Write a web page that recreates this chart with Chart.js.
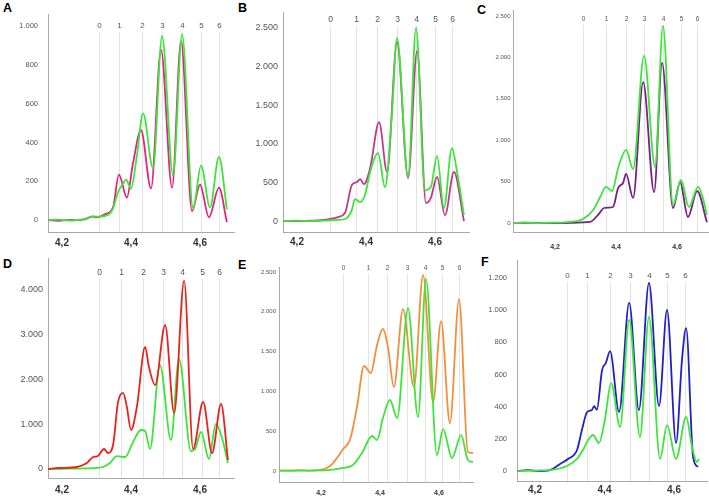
<!DOCTYPE html>
<html>
<head>
<meta charset="utf-8">
<script src="https://cdn.jsdelivr.net/npm/chart.js@4.4.0/dist/chart.umd.min.js"></script>
<style>
  body { margin: 0; background: #fff; width: 709px; height: 496px; overflow: hidden; position: relative; font-family: "Liberation Sans", Arial, sans-serif; }
  canvas { position: absolute; }
  .tag { position: absolute; font-weight: bold; font-size: 12.5px; line-height: 1; color: #000; }
</style>
</head>
<body>
<div class="tag" style="left:3px;top:2px">A</div>
<div class="tag" style="left:238px;top:2px">B</div>
<div class="tag" style="left:477px;top:4px">C</div>
<div class="tag" style="left:3px;top:258px">D</div>
<div class="tag" style="left:238px;top:259px">E</div>
<div class="tag" style="left:481px;top:256px">F</div>

<canvas id="cA" width="236" height="250" style="left:0;top:0"></canvas>
<canvas id="cB" width="236" height="250" style="left:235px;top:0"></canvas>
<canvas id="cC" width="239" height="250" style="left:470px;top:0"></canvas>
<canvas id="cD" width="236" height="251" style="left:0;top:245px"></canvas>
<canvas id="cE" width="240" height="251" style="left:235px;top:245px"></canvas>
<canvas id="cF" width="239" height="251" style="left:470px;top:245px"></canvas>

<script>
// peak labels + axis ticks
const peakNames = ['0', '1', '2', '3', '4', '5', '6'];
const xTicks = [4.2, 4.4, 4.6];
const yTicksA = [0, 200, 400, 600, 800, 1000];
const yTicksB = [0, 500, 1000, 1500, 2000, 2500];
const yTicksC = [0, 500, 1000, 1500, 2000, 2500];
const yTicksD = [0, 1000, 2000, 3000, 4000];
const yTicksE = [0, 500, 1000, 1500, 2000, 2500];
const yTicksF = [0, 200, 400, 600, 800, 1000, 1200];

// where the grey peak lines sit (x value)
const peaksA = [4.307, 4.365, 4.432, 4.490, 4.548, 4.603, 4.655];
const peaksB = [4.296, 4.370, 4.433, 4.491, 4.545, 4.600, 4.650];
const peaksC = [4.293, 4.366, 4.432, 4.493, 4.553, 4.612, 4.667];
const peaksD = [4.308, 4.370, 4.434, 4.494, 4.547, 4.605, 4.655];
const peaksE = [4.276, 4.360, 4.423, 4.491, 4.553, 4.611, 4.669];
const peaksF = [4.291, 4.349, 4.416, 4.473, 4.529, 4.581, 4.632];

// curves, [x, y]
const greenA = [[4.16,0],[4.19,3],[4.22,-2],[4.25,2],[4.27,6],[4.281,15],[4.30,18],[4.33,25],[4.348,61],[4.362,143],[4.377,189],[4.386,209],[4.40,163],[4.417,332],[4.435,551],[4.464,268],[4.49,949],[4.522,230],[4.548,959],[4.58,61],[4.603,281],[4.629,66],[4.655,327],[4.678,56]];
const pinkA = [[4.16,0],[4.19,-3],[4.22,2],[4.25,0],[4.27,8],[4.29,20],[4.30,14],[4.325,31],[4.348,66],[4.365,235],[4.388,117],[4.406,296],[4.429,464],[4.458,163],[4.487,878],[4.519,168],[4.545,923],[4.577,46],[4.60,184],[4.626,15],[4.655,168],[4.678,-10]];

const greenB = [[4.16,0],[4.20,5],[4.24,0],[4.28,5],[4.30,10],[4.32,15],[4.339,26],[4.359,142],[4.368,285],[4.383,246],[4.397,337],[4.412,635],[4.435,880],[4.455,440],[4.475,1373],[4.49,2370],[4.522,570],[4.545,2500],[4.571,400],[4.588,440],[4.606,840],[4.626,168],[4.649,945],[4.664,635],[4.684,78]];
const pinkB = [[4.16,0],[4.20,0],[4.24,5],[4.27,10],[4.30,30],[4.319,52],[4.339,104],[4.359,466],[4.374,505],[4.383,544],[4.394,479],[4.412,686],[4.438,1282],[4.461,635],[4.49,2318],[4.522,557],[4.548,2200],[4.574,233],[4.588,300],[4.606,570],[4.629,78],[4.655,635],[4.684,0]];

const greenC = [[4.065,0],[4.10,5],[4.14,-3],[4.18,3],[4.22,5],[4.249,12],[4.292,48],[4.325,157],[4.348,314],[4.367,435],[4.387,386],[4.407,664],[4.433,882],[4.456,652],[4.492,2017],[4.528,676],[4.554,2380],[4.587,217],[4.613,519],[4.639,193],[4.669,435],[4.682,338],[4.698,97]];
const purpleC = [[4.065,0],[4.10,3],[4.15,0],[4.20,-3],[4.25,2],[4.315,12],[4.341,97],[4.361,181],[4.374,186],[4.39,193],[4.407,423],[4.423,483],[4.433,592],[4.456,302],[4.489,1700],[4.525,374],[4.551,1933],[4.587,181],[4.61,495],[4.636,72],[4.666,386],[4.698,10]];

const redD = [[4.16,0],[4.19,22],[4.243,45],[4.272,134],[4.29,268],[4.304,290],[4.322,447],[4.333,358],[4.348,536],[4.362,1475],[4.377,1699],[4.388,1386],[4.40,872],[4.417,1386],[4.441,2727],[4.452,2280],[4.47,1877],[4.499,3218],[4.525,1252],[4.554,4202],[4.58,447],[4.609,1497],[4.635,358],[4.661,1453],[4.681,201]];
const greenD = [[4.16,0],[4.20,5],[4.25,10],[4.30,25],[4.319,45],[4.339,134],[4.359,290],[4.383,268],[4.406,603],[4.429,872],[4.441,850],[4.455,447],[4.484,2324],[4.516,648],[4.539,2459],[4.574,402],[4.586,447],[4.603,827],[4.626,224],[4.646,1006],[4.664,693],[4.681,134]];

const orangeE = [[4.06,5],[4.10,8],[4.13,10],[4.16,5],[4.197,13],[4.231,63],[4.254,163],[4.275,276],[4.298,389],[4.322,804],[4.346,1319],[4.369,1231],[4.39,1583],[4.41,1784],[4.427,1557],[4.447,1055],[4.478,2035],[4.515,1055],[4.546,2462],[4.58,867],[4.607,1884],[4.637,603],[4.668,2160],[4.698,239],[4.715,226]];
const greenE = [[4.06,5],[4.10,3],[4.15,5],[4.22,10],[4.275,38],[4.308,75],[4.339,226],[4.373,440],[4.39,389],[4.41,666],[4.434,892],[4.458,666],[4.495,2047],[4.529,678],[4.556,2411],[4.593,201],[4.614,527],[4.644,163],[4.675,452],[4.698,138],[4.715,113]];

const blueF = [[4.15,0],[4.18,5],[4.21,0],[4.243,6],[4.272,44],[4.295,75],[4.321,131],[4.335,255],[4.35,367],[4.364,380],[4.37,404],[4.378,380],[4.393,628],[4.404,672],[4.416,746],[4.442,367],[4.471,1045],[4.499,379],[4.528,1169],[4.557,404],[4.58,1001],[4.606,174],[4.623,690],[4.635,889],[4.655,87],[4.669,25]];
const greenF = [[4.15,0],[4.20,3],[4.243,6],[4.292,31],[4.321,75],[4.338,131],[4.353,193],[4.367,224],[4.384,174],[4.401,317],[4.419,547],[4.445,274],[4.471,939],[4.502,211],[4.528,958],[4.56,75],[4.58,286],[4.606,75],[4.635,336],[4.652,149],[4.666,56],[4.672,75]];

const GREEN = '#3de43a';

function thousands(v) {
  return String(v).replace(/\B(?=(\d{3})+(?!\d))/g, '.');
}

// grey vertical lines with the peak number on top
function peakPlugin(at, labelY, size) {
  return {
    id: 'peakMarks',
    beforeDatasetsDraw(chart) {
      const ctx = chart.ctx;
      const xs = chart.scales.x;
      ctx.save();
      ctx.font = size + 'px "Liberation Sans", Arial, sans-serif';
      ctx.textAlign = 'center';
      ctx.textBaseline = 'middle';
      at.forEach((v, i) => {
        const px = Math.round(xs.getPixelForValue(v)) + 0.5;
        ctx.strokeStyle = '#e3e3e3';
        ctx.lineWidth = 1;
        ctx.beginPath();
        ctx.moveTo(px, labelY + 6);
        ctx.lineTo(px, chart.chartArea.bottom);
        ctx.stroke();
        ctx.fillStyle = '#555';
        ctx.fillText(peakNames[i], px, labelY);
      });
      ctx.restore();
    }
  };
}

function drawPanel(p) {
  const cv = document.getElementById(p.id);
  const W = cv.width, H = cv.height;
  return new Chart(cv, {
    type: 'line',
    data: {
      datasets: p.series.map(s => ({
        data: s[0].map(d => ({ x: d[0], y: d[1] })),
        borderColor: s[1],
        borderWidth: 1.8,
        pointRadius: 0,
        fill: false,
        cubicInterpolationMode: 'monotone'
      }))
    },
    options: {
      responsive: false,
      animation: false,
      events: [],
      layout: { padding: { left: 0, top: p.top, right: W - p.right, bottom: 0 } },
      plugins: { legend: { display: false }, tooltip: { enabled: false } },
      scales: {
        x: {
          type: 'linear', min: p.xMin, max: p.xMax,
          grid: { display: false, drawTicks: false },
          border: { color: '#a9a9a9' },
          afterBuildTicks: s => { s.ticks = xTicks.map(v => ({ value: v })); },
          afterFit: s => { s.height = H - p.bottom; },
          ticks: {
            autoSkip: false, maxRotation: 0, padding: p.xPad, color: '#333',
            font: { family: '"Liberation Sans", Arial', size: p.xFont, weight: 'bold' },
            callback: v => v.toFixed(1).replace('.', ',')
          }
        },
        y: {
          type: 'linear', min: p.yMin, max: p.yMax,
          grid: { display: false, drawTicks: false },
          border: { color: '#a9a9a9' },
          afterBuildTicks: s => { s.ticks = p.yTicks.map(v => ({ value: v })); },
          afterFit: s => { s.width = p.left; },
          ticks: {
            autoSkip: false, padding: p.yPad, color: '#555',
            font: { family: '"Liberation Sans", Arial', size: p.yFont },
            callback: v => thousands(v)
          }
        }
      }
    },
    plugins: [peakPlugin(p.peaks, p.peakY, p.peakSize)]
  });
}

const panels = [
  { id: 'cA', series: [[greenA, GREEN], [pinkA, '#e3237f']], peaks: peaksA, yTicks: yTicksA,
    left: 48, top: 12, bottom: 232, right: 234, xMin: 4.1594, xMax: 4.6986, yMin: -61, yMax: 1061,
    yFont: 7.5, yPad: 10, xFont: 10, xPad: 5, peakY: 26, peakSize: 8 },
  { id: 'cB', series: [[greenB, GREEN], [pinkB, '#bf3a8c']], peaks: peaksB, yTicks: yTicksB,
    left: 48, top: 12, bottom: 232, right: 234, xMin: 4.1594, xMax: 4.6986, yMin: -142, yMax: 2707,
    yFont: 9, yPad: 5, xFont: 10, xPad: 4.5, peakY: 20, peakSize: 8.5 },
  { id: 'cC', series: [[greenC, GREEN], [purpleC, '#7a1f86']], peaks: peaksC, yTicks: yTicksC,
    left: 43, top: 10, bottom: 232, right: 238, xMin: 4.0623, xMax: 4.7016, yMin: -109, yMax: 2572,
    yFont: 6, yPad: 2.5, xFont: 7, xPad: 11, peakY: 19, peakSize: 6.5 },
  { id: 'cD', series: [[redD, '#e8231d'], [greenD, GREEN]], peaks: peaksD, yTicks: yTicksD,
    left: 48, top: 13, bottom: 233, right: 234, xMin: 4.1594, xMax: 4.6986, yMin: -201, yMax: 4715,
    yFont: 9, yPad: 5, xFont: 10, xPad: 6.5, peakY: 28, peakSize: 8.5 },
  { id: 'cE', series: [[greenE, GREEN], [orangeE, '#f28f3b']], peaks: peaksE, yTicks: yTicksE,
    left: 44, top: 22, bottom: 237, right: 238, xMin: 4.0576, xMax: 4.7153, yMin: -138, yMax: 2563,
    yFont: 6, yPad: 3, xFont: 7, xPad: 7, peakY: 23, peakSize: 6.5 },
  { id: 'cF', series: [[greenF, GREEN], [blueF, '#2020c8']], peaks: peaksF, yTicks: yTicksF,
    left: 47, top: 15, bottom: 236, right: 237, xMin: 4.1482, xMax: 4.695, yMin: -62, yMax: 1312,
    yFont: 7.5, yPad: 10, xFont: 10, xPad: 3.5, peakY: 31, peakSize: 8 }
];

panels.forEach(drawPanel);
</script>
</body>
</html>
